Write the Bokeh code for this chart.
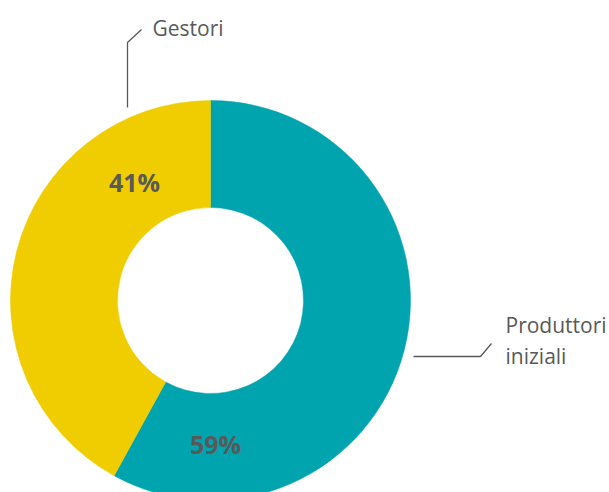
import math
from bokeh.plotting import figure
from bokeh.models import Range1d
from bokeh.core.properties import value
from bokeh.embed import file_html
from bokeh.resources import INLINE

categories = ["Produttori iniziali", "Gestori"]
# slice sizes as drawn in the picture (boundary measured at ~58 / 42)
shares = [58, 42]
pct_labels = ["59%", "41%"]
colors = ["#00A4AE", "#F0CD00"]

W, H = 609, 492
PH = 492  # page height used to map pixel -> data y


def py(p):
    return PH - p


p = figure(width=W, height=H, output_backend="svg", toolbar_location=None,
           x_range=Range1d(0, W), y_range=Range1d(py(H), py(0)),
           min_border=0, outline_line_color=None)
p.axis.visible = False
p.grid.visible = False
p.background_fill_color = "white"

cx, cy = 210, py(300)
r_in, r_out = 93, 200

total = sum(shares)
start = math.pi / 2
for i, s in enumerate(shares):
    sweep = 2 * math.pi * s / total
    end = start - sweep
    p.annular_wedge(x=cx, y=cy, inner_radius=r_in, outer_radius=r_out,
                    start_angle=end, end_angle=start, color=colors[i],
                    line_color=colors[i], line_width=0.5)
    start = end

font = value("Open Sans")
gray = "#595959"
# percent labels
p.text(x=[215, 134], y=[py(443), py(181)], text=pct_labels, text_font=font,
       text_font_size="25px", text_font_style="bold", text_color=gray,
       text_align="center", text_baseline="middle")

# category labels
p.text(x=[152], y=[py(27)], text=[categories[1]], text_font=font,
       text_font_size="21px", text_color=gray, text_align="left",
       text_baseline="middle")
p.text(x=[505, 505], y=[py(324), py(355)], text=["Produttori", "iniziali"],
       text_font=font, text_font_size="21px", text_color=gray,
       text_align="left", text_baseline="middle")

# leader lines
p.line(x=[127, 127, 141], y=[py(107), py(42), py(29)], line_color=gray,
       line_width=1.3)
p.line(x=[413, 480, 491], y=[py(356), py(356), py(343)], line_color=gray,
       line_width=1.3)

open("out.html", "w").write(file_html(p, INLINE))
